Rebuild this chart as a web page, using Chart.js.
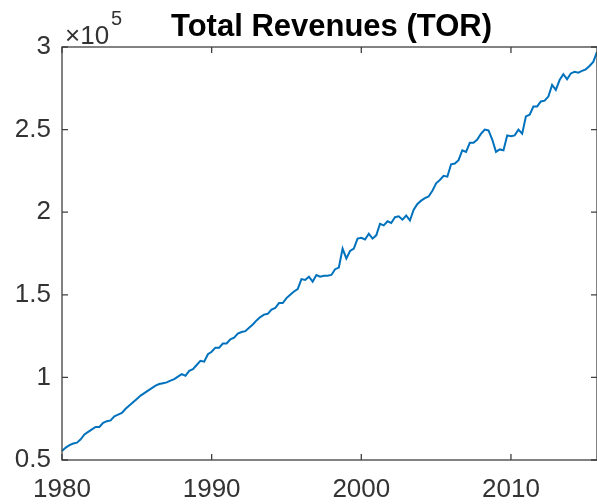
<!DOCTYPE html>
<html>
<head>
<meta charset="utf-8">
<script src="https://cdn.jsdelivr.net/npm/chart.js@4"></script>
<style>
  html, body { margin: 0; padding: 0; background: #fff; }
</style>
</head>
<body>
<canvas id="revChart" width="597" height="504"></canvas>
<script>
// quarterly series, 1980Q1 .. 2015Q4
const startYear = 1980;
const revenues = [
  55500, 57500, 59000, 60000, 60500, 62500, 65500, 67000, 68500, 70000,
  70000, 72500, 73500, 74000, 76500, 77500, 78500, 81000, 83000, 85000,
  87000, 89000, 90500, 92000, 93500, 95000, 96000, 96500, 97000, 98000,
  99000, 100500, 102000, 101000, 104000, 105000, 107500, 110000, 109500, 114000,
  115500, 118000, 118000, 120500, 120500, 123000, 124000, 126500, 127500, 128000,
  130000, 132000, 134500, 136500, 138000, 138500, 141000, 142000, 145000, 145000,
  148000, 150000, 152000, 153500, 159500, 159000, 161000, 158000, 162000, 161000,
  161500, 161500, 162000, 165500, 166500, 178000, 172000, 176500, 178000, 184000,
  184500, 183500, 187000, 184000, 186000, 193000, 192000, 194500, 193500, 197000,
  197500, 195500, 198000, 195000, 201500, 205000, 207000, 208500, 209500, 213000,
  217500, 219500, 222000, 221500, 229000, 229500, 231500, 237500, 236500, 242000,
  242000, 244000, 247500, 250000, 249500, 244000, 236500, 238000, 237500, 246500,
  246000, 246500, 250000, 247500, 258000, 259000, 264000, 264000, 267000, 267500,
  270000, 277000, 274000, 280000, 283500, 280500, 284000, 285000, 284500, 285500,
  286500, 288500, 291000, 297000
];
const xTicks = [1980, 1990, 2000, 2010];
const yTicks = [50000, 100000, 150000, 200000, 250000, 300000];

const textColor = '#333333';
const axisColor = '#404040';
const fontFamily = '"Liberation Sans", Arial, sans-serif';

// matlab style box, inward ticks, title and exponent
const matlabFrame = {
  id: 'matlabFrame',
  afterDraw(chart) {
    const { ctx, chartArea: a, scales: { x, y } } = chart;
    const tick = 6;
    ctx.save();
    ctx.strokeStyle = axisColor;
    ctx.lineWidth = 1.3;
    ctx.strokeRect(a.left, a.top, a.right - a.left, a.bottom - a.top);
    ctx.beginPath();
    x.ticks.forEach(t => {
      const px = x.getPixelForValue(t.value);
      ctx.moveTo(px, a.bottom); ctx.lineTo(px, a.bottom - tick);
      ctx.moveTo(px, a.top); ctx.lineTo(px, a.top + tick);
    });
    y.ticks.forEach(t => {
      const py = y.getPixelForValue(t.value);
      ctx.moveTo(a.left, py); ctx.lineTo(a.left + tick, py);
      ctx.moveTo(a.right, py); ctx.lineTo(a.right - tick, py);
    });
    ctx.stroke();

    ctx.fillStyle = '#000';
    ctx.font = 'bold 31px ' + fontFamily;
    ctx.textAlign = 'center';
    ctx.textBaseline = 'alphabetic';
    ctx.fillText('Total Revenues (TOR)', (a.left + a.right) / 2 + 2, 36);

    ctx.fillStyle = textColor;
    ctx.textAlign = 'left';
    ctx.font = '26px ' + fontFamily;
    ctx.fillText('\u00d710', 65, 44);
    const w = ctx.measureText('\u00d710').width;
    ctx.font = '20px ' + fontFamily;
    ctx.fillText('5', 65 + w + 2, 25);
    ctx.restore();
  }
};

const ctx = document.getElementById('revChart').getContext('2d');
new Chart(ctx, {
  type: 'line',
  data: {
    datasets: [{
      label: 'TOR',
      data: revenues.map((v, i) => ({ x: startYear + i / 4, y: v })),
      borderColor: '#0072BD',
      borderWidth: 2,
      pointRadius: 0,
      tension: 0,
      fill: false,
      clip: 4
    }]
  },
  options: {
    responsive: false,
    animation: false,
    devicePixelRatio: 1,
    layout: { padding: { top: 47, right: 0, left: 0, bottom: 0 } },
    plugins: {
      legend: { display: false },
      tooltip: { enabled: false },
      title: { display: false }
    },
    scales: {
      x: {
        type: 'linear',
        min: 1980,
        max: 2015.75,
        afterBuildTicks: axis => { axis.ticks = xTicks.map(v => ({ value: v })); },
        afterFit: axis => { axis.height = 44; },
        grid: { display: false, drawTicks: false },
        border: { display: false },
        ticks: {
          color: textColor,
          font: { size: 26, family: fontFamily },
          padding: 14,
          maxRotation: 0,
          callback: v => String(v)
        }
      },
      y: {
        min: 50000,
        max: 300000,
        afterBuildTicks: axis => { axis.ticks = yTicks.map(v => ({ value: v })); },
        afterFit: axis => { axis.width = 62; },
        grid: { display: false, drawTicks: false },
        border: { display: false },
        ticks: {
          color: textColor,
          font: { size: 26, family: fontFamily },
          padding: 11,
          callback: v => String(v / 1e5)
        }
      }
    }
  },
  plugins: [matlabFrame]
});
</script>
</body>
</html>
